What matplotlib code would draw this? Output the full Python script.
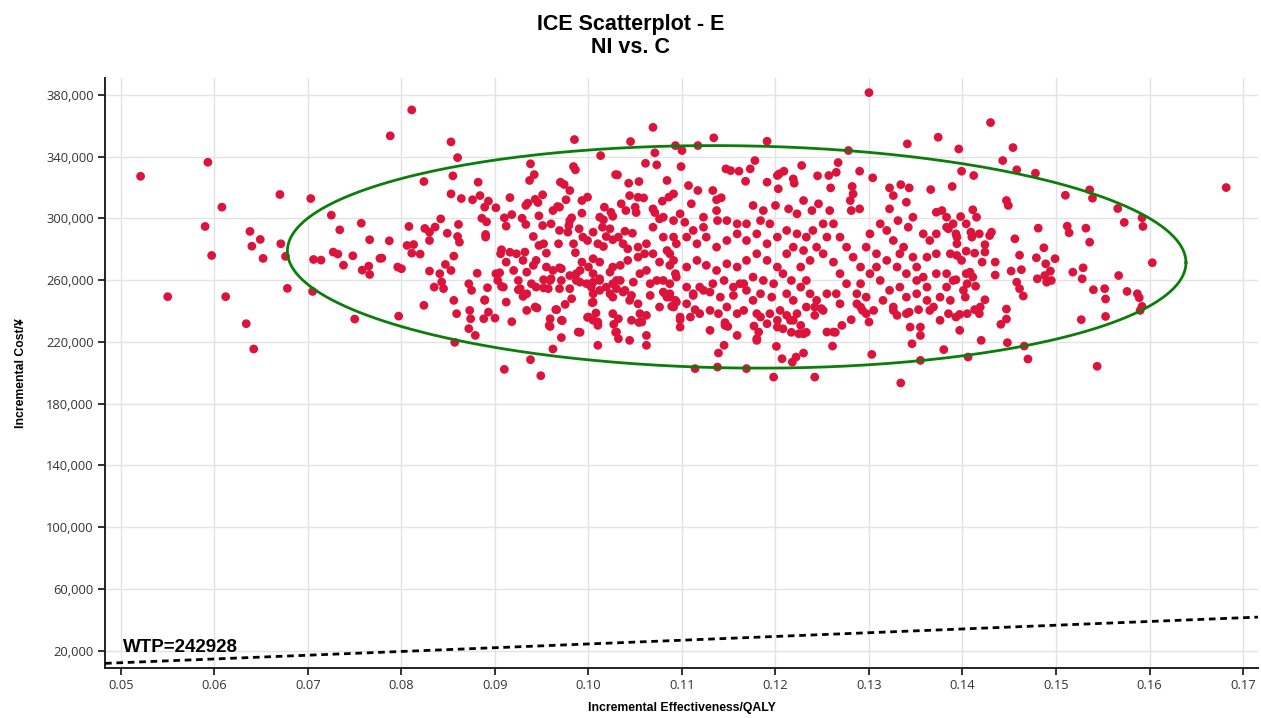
import numpy as np
import matplotlib
matplotlib.use("Agg")
import matplotlib.pyplot as plt
from matplotlib.ticker import FuncFormatter

# ICE scatter - (incremental QALY, incremental cost) pairs
left_tail = [
    (0.0521, 327300), (0.0593, 336400), (0.0788, 353500), (0.0670, 315500), (0.0703, 312900),
    (0.0608, 307300), (0.0725, 302100), (0.0590, 294800), (0.0638, 291600), (0.0649, 286400),
    (0.0640, 282000), (0.0671, 283600), (0.0597, 276000), (0.0652, 274100), (0.0676, 275400),
    (0.0734, 292600), (0.0757, 296900), (0.0766, 286200), (0.0787, 285500), (0.0706, 273400),
    (0.0714, 273000), (0.0727, 278200), (0.0732, 276900), (0.0748, 275800), (0.0738, 269700),
    (0.0758, 266500), (0.0765, 269100), (0.0766, 263700), (0.0777, 274100), (0.0796, 268500),
    (0.0550, 249300), (0.0612, 249300), (0.0678, 254700), (0.0705, 252700), (0.0634, 231800),
    (0.0642, 215400), (0.0750, 234800), (0.0797, 236700), (0.0811, 370300), (0.0808, 294800),
    (0.0806, 282500), (0.0813, 283100), (0.0811, 277500), (0.0800, 267400), (0.0779, 274300),
    (0.0820, 276900), (0.0824, 243700),
]

core_left = [
    (0.0853, 349600), (0.0860, 339400), (0.0824, 323900), (0.0855, 327600), (0.0853, 315900),
    (0.0864, 312900), (0.0882, 323500), (0.0876, 312100), (0.0884, 314800), (0.0893, 311200),
    (0.0889, 307300), (0.0901, 306900), (0.0916, 313500), (0.0938, 335400), (0.0942, 328400),
    (0.0937, 324600), (0.0985, 351100), (0.0984, 333600), (0.0986, 331500), (0.0970, 323500),
    (0.0974, 322000), (0.0980, 318100), (0.0951, 315300), (0.0943, 312400), (0.0935, 309900),
    (0.0933, 308400), (0.0976, 312100), (0.0993, 311600), (0.0999, 313800), (0.1013, 340700),
    (0.1031, 328200), (0.1043, 322800), (0.1054, 323900), (0.1044, 314800), (0.1053, 313700),
    (0.1059, 313300), (0.1045, 349800), (0.1069, 359000), (0.1071, 342500), (0.1061, 335700),
    (0.1073, 334700), (0.1084, 324600), (0.1093, 347200), (0.1035, 309500), (0.1017, 307300),
    (0.1024, 304000), (0.1026, 301400), (0.1040, 305100), (0.1050, 307300), (0.1051, 303800),
    (0.1069, 306200), (0.1071, 303800), (0.1079, 311200), (0.1091, 315900), (0.1086, 313800),
    (0.0825, 293500), (0.0830, 291100), (0.0836, 294400), (0.0830, 285700), (0.0842, 299700),
    (0.0849, 290400), (0.0861, 296100), (0.0860, 288300), (0.0862, 284600), (0.0856, 275600),
    (0.0830, 265900), (0.0841, 264200), (0.0847, 270200), (0.0853, 266300), (0.0835, 255500),
    (0.0843, 258800), (0.0845, 254500), (0.0856, 246900), (0.0873, 240400), (0.0874, 235000),
    (0.0872, 228600), (0.0879, 224200), (0.0857, 219700), (0.0872, 257700), (0.0875, 253400),
    (0.0881, 264500), (0.0889, 247300), (0.0892, 255100), (0.0893, 239300), (0.0888, 235000),
    (0.0900, 235400), (0.0912, 245800), (0.0918, 233100), (0.0910, 202200), (0.0938, 208500),
    (0.0949, 198100), (0.0962, 215400), (0.0971, 222800), (0.0991, 226200), (0.1010, 217800),
    (0.0886, 300100), (0.0891, 297800), (0.0890, 289600), (0.0890, 287900), (0.0907, 279700),
    (0.0906, 277100), (0.0912, 271700), (0.0901, 264200), (0.0905, 264800), (0.0920, 266300),
    (0.0916, 278100), (0.0910, 300400), (0.0918, 302500), (0.0912, 295000), (0.0929, 300100),
    (0.0933, 296100), (0.0947, 301700), (0.0941, 288300), (0.0951, 295400), (0.0960, 296500),
    (0.0967, 307700), (0.0962, 305100), (0.0947, 282500), (0.0952, 283600), (0.0955, 277500),
    (0.0969, 292200), (0.0980, 298600), (0.0982, 300400), (0.0979, 295400), (0.0978, 291100),
    (0.0993, 303400), (0.0990, 293300), (0.0968, 283600), (0.0984, 283600), (0.0986, 277800),
    (0.0994, 287900), (0.0999, 285700), (0.1005, 291100), (0.1012, 300800), (0.1015, 294300),
    (0.1023, 293300), (0.1019, 288300), (0.1010, 283600), (0.1016, 281800), (0.1026, 286200),
    (0.1032, 287900), (0.1039, 291700), (0.1047, 290400), (0.1037, 283600), (0.1042, 280300),
    (0.1053, 281400), (0.1062, 283600), (0.1069, 294300), (0.1076, 299700), (0.1080, 287900),
    (0.1091, 298600), (0.1091, 287900), (0.1053, 274900), (0.1060, 277100), (0.1069, 277100),
    (0.1076, 271700), (0.1087, 277100), (0.1087, 269600), (0.1093, 264200), (0.1042, 272800),
    (0.1034, 269600), (0.1026, 268500), (0.1023, 265200), (0.1034, 259800), (0.1026, 257700),
    (0.1048, 258700), (0.1055, 264200), (0.1062, 266300), (0.1066, 257700), (0.1073, 259800),
    (0.1080, 252300), (0.1087, 251200), (0.1093, 246900), (0.1076, 242600), (0.1062, 237200),
    (0.1055, 238300), (0.1057, 232900), (0.1044, 246900), (0.1046, 250100), (0.1039, 253400),
    (0.1030, 259800), (0.1012, 259800), (0.1005, 264200), (0.1000, 268500), (0.1012, 271700),
    (0.1005, 273900), (0.0993, 271700), (0.0991, 266300), (0.0987, 259800), (0.0980, 263000),
    (0.0971, 267400), (0.0962, 266300), (0.0959, 259800), (0.0971, 259800), (0.0969, 254500),
    (0.0980, 254500), (0.0991, 258700), (0.0998, 257700), (0.1003, 255500), (0.1005, 251200),
    (0.1012, 253400), (0.1019, 255500), (0.1023, 251200), (0.1026, 249000), (0.1005, 245800),
    (0.1000, 236100), (0.1005, 234000), (0.1010, 230700), (0.1026, 238300), (0.1032, 235000),
    (0.1030, 226400), (0.1032, 222100), (0.1044, 221000), (0.1062, 224200), (0.1062, 217800),
    (0.1046, 234000), (0.0989, 226400), (0.0971, 234000), (0.0965, 240900), (0.0975, 244300),
    (0.0959, 235000), (0.0959, 230000), (0.0982, 248000), (0.0943, 242600), (0.0934, 251200),
    (0.0927, 254500), (0.0925, 259800), (0.0939, 257700), (0.0944, 255500), (0.0952, 260300),
    (0.0957, 254500), (0.0934, 265200), (0.0941, 269600), (0.0930, 272800), (0.0923, 277100),
    (0.0932, 278200), (0.0944, 272800), (0.0955, 268500), (0.0909, 255500), (0.0903, 259800),
    (0.0934, 240400), (0.0859, 238300),
    (0.0945, 242000), (0.0958, 230700), (0.0972, 233800), (0.0966, 240900), (0.0999, 235900),
    (0.1008, 238700), (0.1010, 232900), (0.1004, 245400), (0.1027, 231400), (0.1029, 226200),
    (0.1054, 232600), (0.1053, 244700), (0.0889, 246900), (0.0907, 255900), (0.0925, 253800),
    (0.0930, 249500), (0.0952, 255000), (0.0960, 260900), (0.0969, 268000), (0.0987, 264200),
    (0.1005, 258700), (0.1012, 260900), (0.1030, 254500), (0.1037, 252300), (0.1066, 250100),
    (0.1082, 251200), (0.1087, 249000), (0.1089, 243000), (0.1094, 245800), (0.1029, 328400),
    (0.0946, 310300), (0.0969, 307300), (0.1016, 299100),
]

core_mid = [
    (0.1300, 381500), (0.1134, 352200), (0.1191, 350000), (0.1100, 344000), (0.1117, 347200),
    (0.1278, 344000), (0.1341, 348300), (0.1374, 352600), (0.1396, 345000), (0.1389, 320700),
    (0.1366, 318700), (0.1304, 326300), (0.1290, 330600), (0.1267, 336200), (0.1265, 329900),
    (0.1259, 319800), (0.1257, 327800), (0.1245, 327600), (0.1228, 334300), (0.1219, 325600),
    (0.1220, 322800), (0.1209, 330600), (0.1204, 328900), (0.1203, 319200), (0.1191, 323500),
    (0.1178, 337500), (0.1173, 332100), (0.1161, 330600), (0.1152, 331000), (0.1147, 332100),
    (0.1168, 324100), (0.1099, 333600), (0.1107, 321300), (0.1117, 318100), (0.1133, 318100),
    (0.1142, 313400), (0.1137, 312100), (0.1110, 309500), (0.1098, 303000), (0.1123, 300800),
    (0.1137, 305100), (0.1103, 297500), (0.1080, 300800), (0.1176, 308400), (0.1187, 305100),
    (0.1200, 308400), (0.1214, 306200), (0.1223, 303000), (0.1230, 311600), (0.1239, 305100),
    (0.1246, 309500), (0.1258, 305100), (0.1280, 311600), (0.1281, 305100), (0.1290, 306200),
    (0.1282, 320700), (0.1283, 315900), (0.1322, 319800), (0.1322, 306200), (0.1326, 314800),
    (0.1334, 321900), (0.1343, 319800), (0.1340, 310500), (0.1347, 300800), (0.1342, 294300),
    (0.1331, 298600), (0.1372, 304000), (0.1378, 305100), (0.1383, 300800), (0.1390, 296500),
    (0.1394, 287900), (0.1383, 294300), (0.1372, 290000), (0.1365, 285700), (0.1358, 290000),
    (0.1362, 274900), (0.1372, 277100), (0.1387, 277100), (0.1394, 276000), (0.1383, 264200),
    (0.1372, 264200), (0.1390, 259800), (0.1358, 262000), (0.1351, 268500), (0.1347, 274900),
    (0.1337, 281400), (0.1326, 285700), (0.1319, 292200), (0.1312, 296500), (0.1301, 290000),
    (0.1297, 281400), (0.1308, 277100), (0.1319, 272800), (0.1330, 268500), (0.1340, 264200),
    (0.1333, 255500), (0.1322, 253400), (0.1312, 259800), (0.1301, 264200), (0.1291, 268500),
    (0.1291, 257700), (0.1297, 249000), (0.1291, 242600), (0.1305, 240400), (0.1315, 246900),
    (0.1326, 242600), (0.1340, 238300), (0.1351, 251200), (0.1362, 246900), (0.1365, 240400),
    (0.1376, 249000), (0.1387, 246900), (0.1376, 234000), (0.1393, 236100), (0.1355, 229600),
    (0.1344, 229600), (0.1346, 218800), (0.1355, 208000), (0.1380, 215000), (0.1303, 211900),
    (0.1281, 234400), (0.1271, 230700), (0.1262, 226400), (0.1261, 217300), (0.1255, 226400),
    (0.1242, 237200), (0.1251, 240400), (0.1244, 246900), (0.1255, 251200), (0.1265, 251200),
    (0.1276, 257700), (0.1269, 264200), (0.1262, 271700), (0.1251, 277100), (0.1244, 281400),
    (0.1255, 287900), (0.1269, 287900), (0.1276, 281400), (0.1283, 274900), (0.1262, 296500),
    (0.1251, 296500), (0.1240, 292200), (0.1233, 287900), (0.1230, 279200), (0.1237, 272800),
    (0.1227, 268500), (0.1233, 259800), (0.1227, 255500), (0.1237, 251200), (0.1233, 242600),
    (0.1223, 238300), (0.1219, 234000), (0.1227, 230700), (0.1230, 225300), (0.1222, 210200),
    (0.1218, 206900), (0.1207, 209100), (0.1201, 217100), (0.1198, 197200), (0.1242, 197200),
    (0.1169, 202700), (0.1138, 203700), (0.1114, 202700), (0.1139, 212800), (0.1145, 217800),
    (0.1130, 227500), (0.1146, 230700), (0.1159, 224200), (0.1180, 222100), (0.1182, 226400),
    (0.1191, 231800), (0.1202, 229600), (0.1212, 237200), (0.1205, 240400), (0.1196, 249000),
    (0.1184, 251200), (0.1176, 246900), (0.1180, 238300), (0.1166, 240400), (0.1159, 238300),
    (0.1148, 242600), (0.1139, 238300), (0.1130, 240400), (0.1119, 238300), (0.1109, 236100),
    (0.1098, 229600), (0.1098, 236100), (0.1091, 242600), (0.1084, 249000), (0.1087, 257700),
    (0.1080, 259800), (0.1094, 262000), (0.1105, 255500), (0.1112, 251200), (0.1123, 253400),
    (0.1133, 257700), (0.1145, 259800), (0.1155, 255500), (0.1166, 257700), (0.1176, 262000),
    (0.1187, 259800), (0.1198, 257700), (0.1208, 264200), (0.1217, 259800), (0.1212, 251200),
    (0.1219, 246900), (0.1202, 268500), (0.1191, 272800), (0.1180, 277100), (0.1169, 272800),
    (0.1159, 268500), (0.1148, 270600), (0.1137, 266300), (0.1126, 269600), (0.1116, 272800),
    (0.1105, 268500), (0.1091, 272800), (0.1084, 279200), (0.1094, 283600), (0.1105, 287900),
    (0.1116, 283600), (0.1126, 287900), (0.1137, 281400), (0.1148, 285700), (0.1159, 290000),
    (0.1169, 285700), (0.1180, 290000), (0.1191, 283600), (0.1202, 287900), (0.1212, 292200),
    (0.1223, 290000), (0.1194, 296500), (0.1184, 298600), (0.1169, 296500), (0.1159, 296500),
    (0.1148, 298600), (0.1123, 294300), (0.1112, 292200), (0.1212, 277100), (0.1219, 281400),
    (0.1287, 251200), (0.1308, 268500), (0.1333, 277100), (0.1351, 259800), (0.1362, 255500),
    (0.1383, 255500), (0.1340, 249000),
    (0.1098, 234400), (0.1114, 240900), (0.1146, 232500), (0.1149, 230000), (0.1105, 244700),
    (0.1112, 250100), (0.1119, 255500), (0.1130, 252300), (0.1141, 249000), (0.1155, 250100),
    (0.1162, 257700), (0.1169, 253400), (0.1138, 298600), (0.1202, 327800),
    (0.1334, 193400), (0.1230, 212800), (0.1355, 224200), (0.1264, 226200), (0.1300, 232900),
    (0.1233, 226200), (0.1225, 225300), (0.1217, 226200), (0.1208, 228500), (0.1202, 234000),
    (0.1180, 221000), (0.1177, 230300), (0.1184, 236100), (0.1194, 238300), (0.1216, 234000),
    (0.1249, 241600), (0.1242, 242600), (0.1269, 244700), (0.1287, 244700), (0.1293, 240400),
    (0.1297, 238300), (0.1326, 240400), (0.1330, 237200), (0.1343, 239300), (0.1353, 240900),
    (0.1369, 242600), (0.1397, 237800), (0.1419, 242600),
]

right_tail = [
    (0.1430, 362100), (0.1454, 345900), (0.1443, 337500), (0.1399, 330600), (0.1412, 327800),
    (0.1458, 331500), (0.1478, 329300), (0.1447, 311600), (0.1449, 308400), (0.1510, 315000),
    (0.1536, 318500), (0.1539, 313100), (0.1566, 306400), (0.1682, 320000), (0.1573, 297400),
    (0.1592, 300400), (0.1593, 294800), (0.1603, 271300), (0.1512, 295000), (0.1514, 290700),
    (0.1532, 293700), (0.1536, 284600), (0.1481, 293700), (0.1487, 281000), (0.1479, 274500),
    (0.1489, 270600), (0.1499, 273900), (0.1494, 265900), (0.1488, 263000), (0.1480, 260900),
    (0.1490, 258700), (0.1495, 259800), (0.1518, 265200), (0.1529, 268000), (0.1528, 260900),
    (0.1567, 263000), (0.1540, 253800), (0.1552, 254500), (0.1553, 247800), (0.1576, 252700),
    (0.1587, 251200), (0.1589, 248600), (0.1592, 243000), (0.1590, 240400), (0.1553, 236500),
    (0.1527, 234400), (0.1544, 204200), (0.1470, 208900), (0.1466, 217300), (0.1448, 219500),
    (0.1420, 221000), (0.1406, 210200), (0.1397, 227500), (0.1441, 231400), (0.1447, 234800),
    (0.1447, 241300), (0.1465, 249700), (0.1461, 254500), (0.1458, 258700), (0.1452, 265900),
    (0.1463, 266800), (0.1461, 276200), (0.1456, 286800), (0.1435, 271700), (0.1435, 263300),
    (0.1424, 247300), (0.1418, 238300), (0.1413, 240900), (0.1405, 238300), (0.1414, 256100),
    (0.1421, 271700), (0.1424, 278200), (0.1424, 283000), (0.1429, 288900), (0.1431, 291100),
    (0.1418, 290000), (0.1410, 287900), (0.1409, 291100), (0.1411, 305600), (0.1415, 300800),
    (0.1398, 301200), (0.1404, 296500), (0.1393, 290000), (0.1394, 283600), (0.1385, 293300),
    (0.1413, 277500), (0.1404, 278800), (0.1399, 272800), (0.1404, 264200), (0.1408, 265200),
    (0.1411, 262000), (0.1405, 257700), (0.1393, 260300), (0.1401, 253400), (0.1403, 249000),
    (0.1385, 238300),
]

wtp = 242928
# 95% ellipse: centre, half widths, tilt of the right end
ell_center = (0.11585, 275100)
ell_half_x = 0.04805
ell_half_y = 72000
ell_tilt = -3750

x_ticks = [0.05, 0.06, 0.07, 0.08, 0.09, 0.10, 0.11, 0.12, 0.13, 0.14, 0.15, 0.16, 0.17]
y_ticks = [20000, 60000, 100000, 140000, 180000, 220000, 260000, 300000, 340000, 380000]

pts = np.array(left_tail + core_left + core_mid + right_tail)

fig = plt.figure(figsize=(12.61, 7.18), dpi=100)
ax = fig.add_axes([0.0833, 0.0696, 0.9143, 0.8218])

xlim = (0.0483, 0.1716)
ylim = (8700, 391000)

ax.scatter(pts[:, 0], pts[:, 1], s=40, color='#DC143C', edgecolors='none', zorder=3)

t = np.linspace(0, 2 * np.pi, 400)
ex = ell_center[0] + ell_half_x * np.cos(t)
ey = ell_center[1] + ell_half_y * np.sin(t) + ell_tilt * np.cos(t)
ax.plot(ex, ey, color='#0b7d0b', lw=2.0, zorder=4)

wx = np.array(xlim)
ax.plot(wx, wtp * wx, color='black', lw=2.0, linestyle=(0, (2.4, 1.7)), zorder=4)
ax.text(0.0502, 16800, 'WTP=%d' % wtp, fontsize=13.5, fontweight='bold',
        family='Liberation Sans', ha='left', va='bottom', zorder=5)

ax.set_xlim(*xlim)
ax.set_ylim(*ylim)
ax.set_xticks(x_ticks)
ax.set_yticks(y_ticks)
ax.xaxis.set_major_formatter(FuncFormatter(lambda v, p: '%.2f' % v))
ax.yaxis.set_major_formatter(FuncFormatter(lambda v, p: '{:,.0f}'.format(v)))
ax.grid(True, color='#e3e3e3', lw=1.0, zorder=0)
ax.set_axisbelow(True)

for s in ['top', 'right']:
    ax.spines[s].set_visible(False)
for s in ['left', 'bottom']:
    ax.spines[s].set_color('#222222')
    ax.spines[s].set_linewidth(1.4)
ax.tick_params(length=5, width=1.3, color='#222222', labelcolor='#333333',
               labelsize=9.3, pad=3)
for lab in ax.get_xticklabels() + ax.get_yticklabels():
    lab.set_family('Open Sans')

ax.set_xlabel('Incremental Effectiveness/QALY', fontsize=8.8, fontweight='bold',
              family='Liberation Sans', labelpad=7)
ax.set_ylabel('Incremental Cost/¥', fontsize=8.8, fontweight='bold',
              family='Liberation Sans', labelpad=14)

fig.text(0.5, 0.966, 'ICE Scatterplot - E', ha='center', va='center', fontsize=15.5,
         fontweight='bold', family='Liberation Sans')
fig.text(0.5, 0.934, 'NI vs. C', ha='center', va='center', fontsize=15.5,
         fontweight='bold', family='Liberation Sans')

fig.savefig('out.png', dpi=100)
